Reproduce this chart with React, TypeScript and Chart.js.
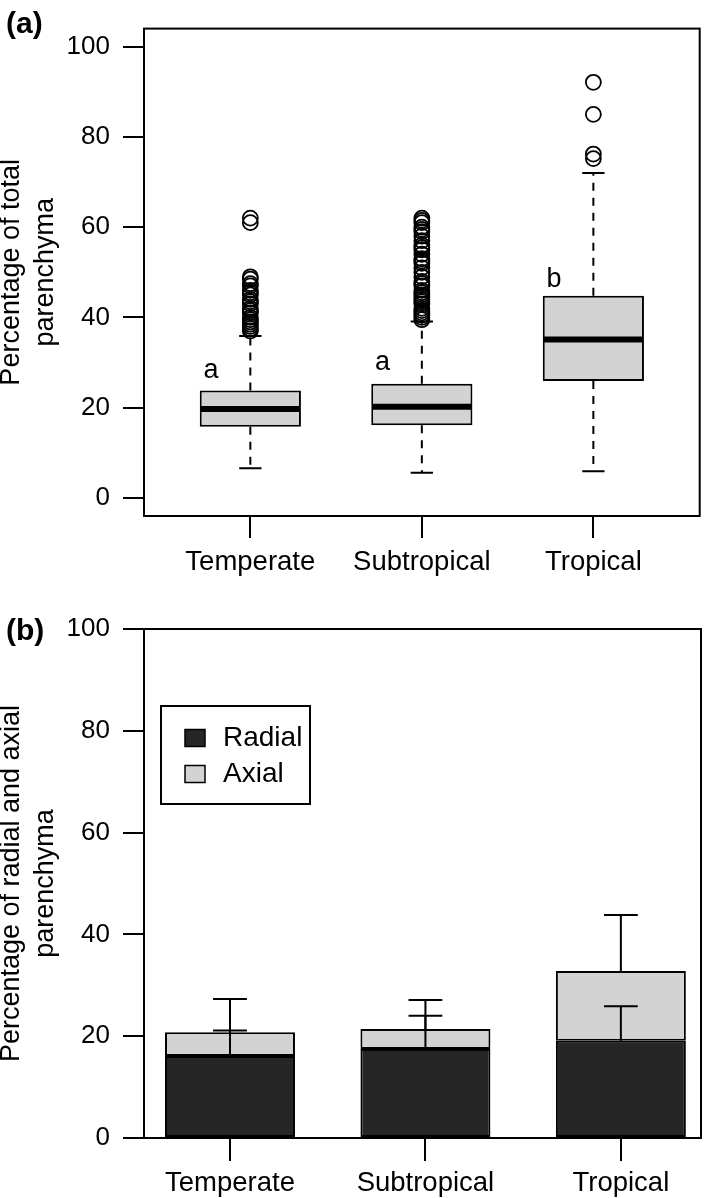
import React, { useEffect, useRef } from 'react';
import { Chart, registerables } from 'chart.js';

Chart.register(...registerables);

// ---------------- data ----------------
const categories = ['Temperate', 'Subtropical', 'Tropical'];
const categoryPositions = [1, 2, 3];

// panel (a): box-plot statistics
const boxLower = [6.6, 5.6, 5.9];
const boxQ1 = [15.8, 16.1, 25.9];
const boxMedian = [19.7, 20.2, 35.1];
const boxQ3 = [23.8, 25.3, 44.8];
const boxUpper = [35.9, 39.1, 72.0];
const outliersTemperate = [
  62, 61, 49, 48.5, 47.5, 47, 46, 45.5, 45, 44, 43.5, 43, 42, 41.5, 41, 40, 39.5,
  39, 38.5, 38, 37.5, 37,
];
const outliersSubtropical = [
  62, 61.5, 61, 60, 59.5, 59, 58, 57, 56, 55.5, 55, 54, 53, 52.5, 52, 51, 50, 49,
  48, 47.5, 47, 46, 45.5, 45, 44.5, 44, 43.5, 43, 42, 41.5, 41, 40.5, 40, 39.5,
];
const outliersTropical = [92.1, 85.0, 76.2, 75.2];
const groupLetters = ['a', 'a', 'b'];
const letterValues = [26.6, 28.3, 46.8];
const yTicksA = [0, 20, 40, 60, 80, 100];

// panel (b): stacked means with SD
const seriesLabels = ['Radial', 'Axial'];
const radialMean = [16.1, 17.5, 19.1];
const axialMean = [4.7, 3.9, 13.7];
const radialSD = [5.0, 6.5, 6.8];
const axialSD = [6.5, 5.7, 11.0];
const yTicksB = [0, 20, 40, 60, 80, 100];

// ---------------- styling ----------------
const FONT = '"Liberation Sans", Arial, Helvetica, sans-serif';
const BLACK = '#000000';
const LIGHT = '#d3d3d3';
const DARK = '#262626';

Chart.defaults.font.family = FONT;
Chart.defaults.color = BLACK;

const framePlugin = {
  id: 'frame',
  afterDraw(chart: any) {
    const { ctx, chartArea: ca } = chart;
    ctx.save();
    ctx.strokeStyle = BLACK;
    ctx.lineWidth = 2;
    ctx.strokeRect(ca.left, ca.top, ca.right - ca.left, ca.bottom - ca.top);
    ctx.restore();
  },
};

function panelLabelPlugin(text: string, cy: number) {
  return {
    id: 'panelLabel',
    afterDraw(chart: any) {
      const ctx = chart.ctx;
      ctx.save();
      ctx.fillStyle = BLACK;
      ctx.font = `bold 30px ${FONT}`;
      ctx.textAlign = 'left';
      ctx.textBaseline = 'middle';
      ctx.fillText(text, 6, cy);
      ctx.restore();
    },
  };
}

const boxDecorPlugin = {
  id: 'boxDecor',
  afterDatasetsDraw(chart: any) {
    const ctx = chart.ctx;
    const ys = chart.scales.y;
    const xs = chart.scales.x;
    const meta = chart.getDatasetMeta(0);
    ctx.save();
    ctx.strokeStyle = BLACK;
    meta.data.forEach((bar: any, i: number) => {
      const { x, width } = bar.getProps(['x', 'width'], true);
      const half = width / 2;
      const capHalf = width * 0.11;
      const yQ1 = ys.getPixelForValue(boxQ1[i]);
      const yQ3 = ys.getPixelForValue(boxQ3[i]);
      const yLo = ys.getPixelForValue(boxLower[i]);
      const yUp = ys.getPixelForValue(boxUpper[i]);
      const yMed = ys.getPixelForValue(boxMedian[i]);
      ctx.lineWidth = 2;
      ctx.setLineDash([8, 7]);
      ctx.beginPath();
      ctx.moveTo(x, yQ3);
      ctx.lineTo(x, yUp);
      ctx.moveTo(x, yQ1);
      ctx.lineTo(x, yLo);
      ctx.stroke();
      ctx.setLineDash([]);
      ctx.beginPath();
      ctx.moveTo(x - capHalf, yUp);
      ctx.lineTo(x + capHalf, yUp);
      ctx.moveTo(x - capHalf, yLo);
      ctx.lineTo(x + capHalf, yLo);
      ctx.stroke();
      ctx.lineWidth = 6;
      ctx.beginPath();
      ctx.moveTo(x - half + 1, yMed);
      ctx.lineTo(x + half - 1, yMed);
      ctx.stroke();
    });
    ctx.fillStyle = BLACK;
    ctx.font = `27px ${FONT}`;
    ctx.textAlign = 'center';
    ctx.textBaseline = 'alphabetic';
    groupLetters.forEach((t, i) => {
      ctx.fillText(t, xs.getPixelForValue(categoryPositions[i] - 0.23), ys.getPixelForValue(letterValues[i]));
    });
    ctx.restore();
  },
};

const errorBarPlugin = {
  id: 'errorBars',
  afterDatasetsDraw(chart: any) {
    const ctx = chart.ctx;
    const ys = chart.scales.y;
    const m0 = chart.getDatasetMeta(0);
    const m1 = chart.getDatasetMeta(1);
    ctx.save();
    ctx.strokeStyle = BLACK;
    ctx.lineWidth = 2;
    categoryPositions.forEach((_, i) => {
      const b0 = m0.data[i].getProps(['x', 'y', 'width'], true);
      const b1 = m1.data[i].getProps(['x', 'y', 'width'], true);
      const capHalf = b0.width * 0.13;
      const segs = [
        { x: b0.x, from: b0.y, to: ys.getPixelForValue(radialMean[i] + radialSD[i]) },
        { x: b1.x, from: b1.y, to: ys.getPixelForValue(radialMean[i] + axialMean[i] + axialSD[i]) },
      ];
      segs.forEach((s) => {
        ctx.beginPath();
        ctx.moveTo(s.x, s.from);
        ctx.lineTo(s.x, s.to);
        ctx.moveTo(s.x - capHalf, s.to);
        ctx.lineTo(s.x + capHalf, s.to);
        ctx.stroke();
      });
    });
    ctx.restore();
  },
};

const legendPlugin = {
  id: 'customLegend',
  afterDraw(chart: any) {
    const { ctx, chartArea: ca } = chart;
    const left = ca.left + 17;
    const top = ca.top + 77;
    ctx.save();
    ctx.strokeStyle = BLACK;
    ctx.lineWidth = 2;
    ctx.strokeRect(left, top, 149, 98);
    ctx.font = `28px ${FONT}`;
    ctx.textAlign = 'left';
    ctx.textBaseline = 'middle';
    chart.data.datasets.forEach((ds: any, i: number) => {
      const cy = top + 32 + i * 36;
      ctx.fillStyle = ds.backgroundColor;
      ctx.fillRect(left + 24, cy - 8.5, 20, 17);
      ctx.lineWidth = 1.5;
      ctx.strokeRect(left + 24, cy - 8.5, 20, 17);
      ctx.fillStyle = BLACK;
      ctx.fillText(ds.label, left + 62, cy);
    });
    ctx.restore();
  },
};

function yAxis(ticks: number[], min: number, max: number, title: string[]) {
  return {
    type: 'linear',
    min,
    max,
    afterBuildTicks: (s: any) => {
      s.ticks = ticks.map((v) => ({ value: v }));
    },
    afterFit: (s: any) => {
      s.width = 144;
    },
    grid: { drawOnChartArea: false, drawTicks: true, tickLength: 21, color: BLACK, lineWidth: 2 },
    border: { display: false },
    ticks: { color: BLACK, font: { family: FONT, size: 26 }, padding: 13 },
    title: {
      display: true,
      text: title,
      color: BLACK,
      font: { family: FONT, size: 27, lineHeight: 34 / 27 },
      padding: { top: -5, bottom: 0 },
    },
  };
}

function xAxis(min: number, max: number, height: number, tickLength: number, padding: number) {
  return {
    type: 'linear',
    min,
    max,
    offset: false,
    afterBuildTicks: (s: any) => {
      s.ticks = categoryPositions.map((v) => ({ value: v }));
    },
    afterFit: (s: any) => {
      s.height = height;
    },
    grid: { offset: false, drawOnChartArea: false, drawTicks: true, tickLength, color: BLACK, lineWidth: 2 },
    border: { display: false },
    ticks: {
      color: BLACK,
      font: { family: FONT, size: 27.5 },
      padding,
      autoSkip: false,
      maxRotation: 0,
      callback: (_v: any, idx: number) => categories[idx],
    },
  };
}

export default function App() {
  const refA = useRef<HTMLCanvasElement | null>(null);
  const refB = useRef<HTMLCanvasElement | null>(null);

  useEffect(() => {
    document.body.style.margin = '0';
    document.body.style.background = '#ffffff';

    const outlierData = [
      ...outliersTemperate.map((y) => ({ x: categoryPositions[0], y })),
      ...outliersSubtropical.map((y) => ({ x: categoryPositions[1], y })),
      ...outliersTropical.map((y) => ({ x: categoryPositions[2], y })),
    ];

    const chartA = new Chart(refA.current as HTMLCanvasElement, {
      type: 'bar',
      data: {
        datasets: [
          {
            type: 'bar',
            label: 'box',
            data: categoryPositions.map((x, i) => ({ x, y: [boxQ1[i], boxQ3[i]] })),
            backgroundColor: LIGHT,
            borderColor: BLACK,
            borderWidth: 2,
            borderSkipped: false,
            barPercentage: 0.59,
            categoryPercentage: 1,
            grouped: false,
          } as any,
          {
            type: 'scatter',
            label: 'outliers',
            data: outlierData,
            pointStyle: 'circle',
            pointRadius: 7.5,
            pointBorderWidth: 1.8,
            pointBorderColor: BLACK,
            pointBackgroundColor: 'rgba(0,0,0,0)',
            showLine: false,
          } as any,
        ],
      },
      options: {
        responsive: false,
        animation: false,
        devicePixelRatio: 1,
        layout: { padding: { left: 0, right: 6, top: 7, bottom: 0 } },
        plugins: { legend: { display: false }, tooltip: { enabled: false } },
        scales: {
          x: xAxis(0.38, 3.62, 74, 22, 8) as any,
          y: yAxis(yTicksA, -4, 104, ['Percentage of total', 'parenchyma']) as any,
        },
      },
      plugins: [boxDecorPlugin, framePlugin, panelLabelPlugin('(a)', 25)],
    });

    const chartB = new Chart(refB.current as HTMLCanvasElement, {
      type: 'bar',
      data: {
        datasets: [
          {
            label: seriesLabels[0],
            data: categoryPositions.map((x, i) => ({ x, y: radialMean[i] })),
            backgroundColor: DARK,
            borderColor: BLACK,
            borderWidth: 2,
            borderSkipped: false,
            barPercentage: 0.665,
            categoryPercentage: 1,
          } as any,
          {
            label: seriesLabels[1],
            data: categoryPositions.map((x, i) => ({ x, y: axialMean[i] })),
            backgroundColor: LIGHT,
            borderColor: BLACK,
            borderWidth: 2,
            borderSkipped: false,
            barPercentage: 0.665,
            categoryPercentage: 1,
          } as any,
        ],
      },
      options: {
        responsive: false,
        animation: false,
        devicePixelRatio: 1,
        layout: { padding: { left: 0, right: 8, top: 39, bottom: 0 } },
        plugins: { legend: { display: false }, tooltip: { enabled: false } },
        scales: {
          x: { ...(xAxis(0.56, 3.41, 60, 23, 6) as any), stacked: true },
          y: {
            ...(yAxis(yTicksB, 0, 100, ['Percentage of radial and axial', 'parenchyma']) as any),
            stacked: true,
          },
        },
      },
      plugins: [errorBarPlugin, framePlugin, legendPlugin, panelLabelPlugin('(b)', 42)],
    });

    return () => {
      chartA.destroy();
      chartB.destroy();
    };
  }, []);

  return (
    <div style={{ width: 709, height: 1198, background: '#ffffff' }}>
      <canvas ref={refA} width={709} height={590} style={{ display: 'block', width: 709, height: 590 }} />
      <canvas ref={refB} width={709} height={608} style={{ display: 'block', width: 709, height: 608 }} />
    </div>
  );
}
